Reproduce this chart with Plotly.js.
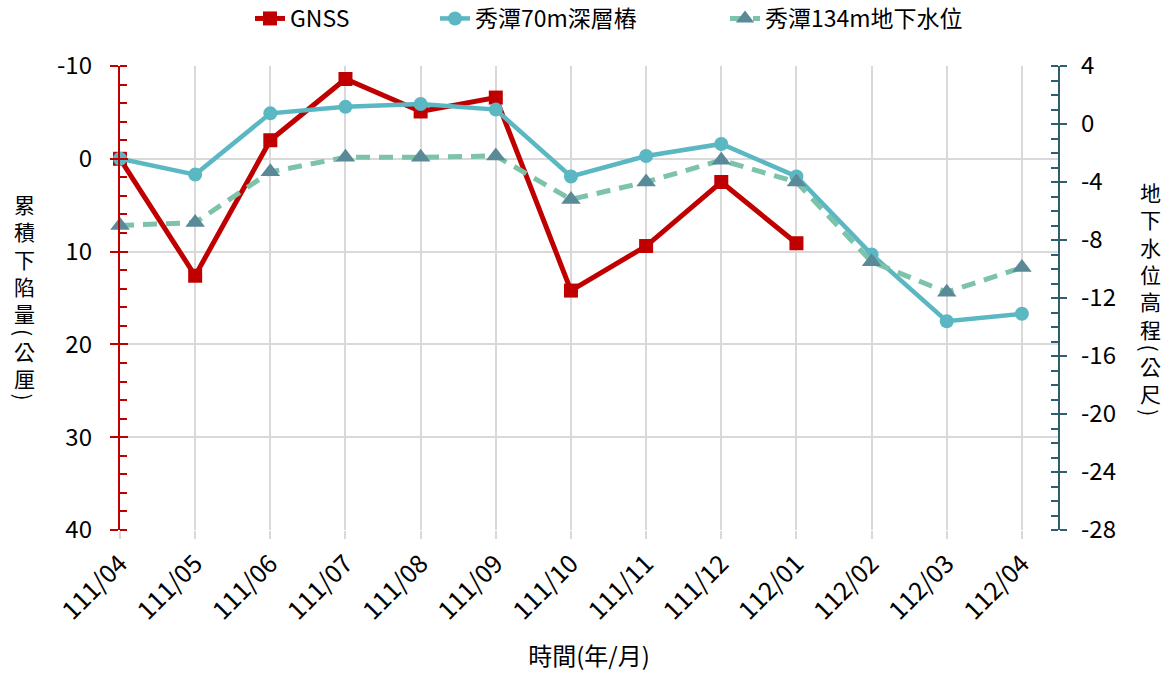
<!DOCTYPE html>
<html>
<head>
<meta charset="utf-8">
<script src="https://cdn.plot.ly/plotly-3.0.1.min.js"></script>
<style>html,body{margin:0;padding:0;background:#fff;}#chart{width:1169px;height:677px;}</style>
</head>
<body>
<div id="chart"></div>
<script>
// ---- data ----
const categories = ['111/04','111/05','111/06','111/07','111/08','111/09','111/10','111/11','111/12','112/01','112/02','112/03','112/04'];
const gnssValues = [0, 12.6, -2.0, -8.6, -5.1, -6.6, 14.2, 9.4, 2.5, 9.1, null, null, null];
const pile70Values = [0, 1.7, -4.9, -5.6, -5.9, -5.3, 1.9, -0.3, -1.6, 1.9, 10.3, 17.5, 16.7];
const water134Values = [-7.0, -6.8, -3.3, -2.3, -2.3, -2.2, -5.2, -4.0, -2.5, -4.0, -9.5, -11.6, -9.9];
const seriesNames = ['GNSS', '秀潭70m深層樁', '秀潭134m地下水位'];
const leftTickValues = [-10, 0, 10, 20, 30, 40];
const rightTickValues = [4, 0, -4, -8, -12, -16, -20, -24, -28];
const leftTitle = '累積下陷量(公厘)';
const rightTitle = '地下水位高程(公尺)';
const xTitle = '時間(年/月)';

const FONT = '"Noto Sans CJK TC", "Noto Sans", sans-serif';
const RED = '#C00000';
const TEAL = '#5BB7C2';
const GREEN = '#7CC3A9';
const SLATE = '#5A8A98';
const RAXIS = '#2F5E6E';
const GRID = '#D9D9D9';

const M = {l: 120, r: 111, t: 66, b: 147, autoexpand: false};
const W = 1169, H = 677;
const plotW = W - M.l - M.r;
const plotH = H - M.t - M.b;
const px2x = p => (p - M.l) / plotW;

const traces = [
  {x: categories, y: gnssValues, name: seriesNames[0], type: 'scatter', mode: 'lines+markers',
   line: {color: RED, width: 5}, marker: {symbol: 'square', size: 14, color: RED},
   yaxis: 'y', cliponaxis: false, legend: 'legend'},
  {x: categories, y: pile70Values, name: seriesNames[1], type: 'scatter', mode: 'lines+markers',
   line: {color: TEAL, width: 4.5}, marker: {symbol: 'circle', size: 14, color: TEAL},
   yaxis: 'y', cliponaxis: false, legend: 'legend2'},
  {x: categories, y: water134Values, name: seriesNames[2], type: 'scatter', mode: 'lines+markers',
   line: {color: GREEN, width: 5, dash: '14px,9px'}, marker: {symbol: 'triangle-up', size: 17, color: SLATE},
   yaxis: 'y2', cliponaxis: false, legend: 'legend3'},
  // empty helper traces so the label/tick overlay axes get drawn
  {x: [null], y: [null], yaxis: 'y3', type: 'scatter', mode: 'markers', showlegend: false, hoverinfo: 'skip'},
  {x: [null], y: [null], yaxis: 'y4', type: 'scatter', mode: 'markers', showlegend: false, hoverinfo: 'skip'}
];

// vertical (stacked) axis titles: CJK runs as multi-line text, brackets rotated
function stackedTitle(text, xPaper, xshift, centerPx, color) {
  const SIZE = 21, PITCH = SIZE * 1.3, PAREN = 10;
  const parts = [];
  let run = '';
  for (const c of Array.from(text)) {
    if (c === '(' || c === ')') {
      if (run) { parts.push({t: run, paren: false}); run = ''; }
      parts.push({t: c, paren: true});
    } else run += c;
  }
  if (run) parts.push({t: run, paren: false});
  const hs = parts.map(p => p.paren ? PAREN : Array.from(p.t).length * PITCH);
  const total = hs.reduce((a, b) => a + b, 0);
  let top = centerPx - total / 2;
  return parts.map((p, i) => {
    const cy = top + hs[i] / 2;
    top += hs[i];
    return {
      text: p.paren ? p.t : Array.from(p.t).join('<br>'),
      xref: 'paper', yref: 'paper', x: xPaper, y: 0.5,
      xshift: xshift, yshift: (M.t + plotH / 2) - cy,
      xanchor: 'center', yanchor: 'middle', showarrow: false, borderpad: 0,
      textangle: p.paren ? 90 : 0,
      font: {family: FONT, size: SIZE, color: color}
    };
  });
}

const annotations = [].concat(
  stackedTitle(leftTitle, 0, 24 - M.l, 296, '#000'),
  stackedTitle(rightTitle, 1, 1150 - (W - M.r), 298, '#000')
);

const legendBase = {orientation: 'h', xanchor: 'left', yanchor: 'top', y: 1 + (M.t + 3) / plotH,
  font: {family: FONT, size: 23, color: '#000'}, bgcolor: 'rgba(0,0,0,0)', borderwidth: 0};

const layout = {
  width: W, height: H,
  margin: M,
  paper_bgcolor: '#fff', plot_bgcolor: '#fff',
  font: {family: FONT, size: 22, color: '#000'},
  showlegend: true,
  legend: Object.assign({}, legendBase, {x: px2x(292 - 42)}),
  legend2: Object.assign({}, legendBase, {x: px2x(477 - 42)}),
  legend3: Object.assign({}, legendBase, {x: px2x(767 - 42)}),
  xaxis: {
    type: 'category', range: [0, 12.48],
    showgrid: true, gridcolor: GRID, gridwidth: 2,
    ticks: 'outside', ticklen: 8, tickcolor: GRID, tickwidth: 2,
    tickangle: -45, tickfont: {family: FONT, size: 25, color: '#000'},
    showline: false, zeroline: false,
    title: {text: xTitle, font: {family: FONT, size: 24, color: '#000'}, standoff: 22}
  },
  // left axis: line, outward major ticks, inward minor ticks
  yaxis: {
    range: [40, -10], tickmode: 'linear', dtick: 10, tick0: 0,
    showgrid: true, gridcolor: GRID, gridwidth: 2, zeroline: false,
    showline: true, linecolor: RED, linewidth: 2,
    ticks: 'outside', ticklen: 8, tickcolor: RED, tickwidth: 2,
    minor: {dtick: 2, ticks: 'inside', ticklen: 7, tickcolor: RED, tickwidth: 2, showgrid: false},
    showticklabels: false
  },
  // right axis
  yaxis2: {
    overlaying: 'y', side: 'right', range: [-28, 4], tickmode: 'linear', dtick: 4, tick0: 0,
    showgrid: false, zeroline: false,
    showline: true, linecolor: RAXIS, linewidth: 2,
    ticks: 'outside', ticklen: 7, tickcolor: RAXIS, tickwidth: 2,
    minor: {dtick: 1, ticks: 'inside', ticklen: 7, tickcolor: RAXIS, tickwidth: 2, showgrid: false},
    showticklabels: false
  },
  // left labels + inward part of major ticks
  yaxis3: {
    overlaying: 'y', side: 'left', range: [40, -10],
    tickmode: 'array', tickvals: leftTickValues, ticktext: leftTickValues.map(String),
    showgrid: false, zeroline: false, showline: false,
    ticks: 'inside', ticklen: 8, tickcolor: RED, tickwidth: 2,
    tickfont: {family: FONT, size: 24, color: '#000'}, ticklabelstandoff: 27
  },
  // right labels + inward part of major ticks
  yaxis4: {
    overlaying: 'y', side: 'right', range: [-28, 4],
    tickmode: 'array', tickvals: rightTickValues, ticktext: rightTickValues.map(String),
    showgrid: false, zeroline: false, showline: false,
    ticks: 'inside', ticklen: 7, tickcolor: RAXIS, tickwidth: 2,
    tickfont: {family: FONT, size: 24, color: '#000'}, ticklabelstandoff: 22
  },
  annotations: annotations
};

Plotly.newPlot('chart', traces, layout, {displayModeBar: false, staticPlot: true});
</script>
</body>
</html>
